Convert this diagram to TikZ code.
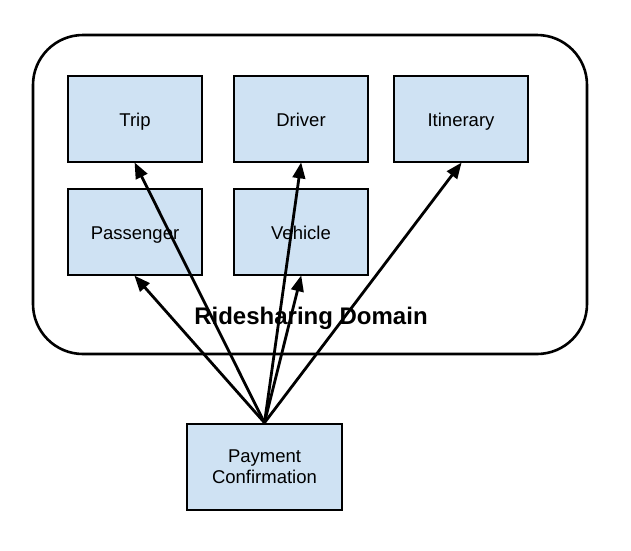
\documentclass[tikz,border=0pt]{standalone}
\usepackage{fontspec}
\setmainfont{Liberation Sans}
\usetikzlibrary{arrows.meta}
\definecolor{boxblue}{HTML}{CFE2F3}
\begin{document}
\begin{tikzpicture}[x=1pt,y=-1pt,
  entity/.style={draw=black, line width=2.6pt, fill=boxblue, minimum width=134pt, minimum height=86pt, inner sep=0pt, align=center, font=\fontsize{18.5}{21}\selectfont},
  single/.style={text height=15.5pt, text depth=0pt},
  link/.style={line width=2.8pt, -{Triangle[length=16pt,width=12.5pt]}, shorten >=-1pt}]
\useasboundingbox (0,0) rectangle (631,550);
\draw[line width=2.6pt, rounded corners=50pt] (33,35) rectangle (587,354);
\node[entity, single] (trip) at (135,119) {Trip};
\node[entity, single] (driver) at (301,119) {Driver};
\node[entity, single] (itinerary) at (461,119) {Itinerary};
\node[entity, single] (passenger) at (135,232) {Passenger};
\node[entity, single] (vehicle) at (301,232) {Vehicle};
\node[entity, minimum width=155pt] (payment) at (264.5,467) {Payment\\Confirmation};
\node[anchor=base, font=\fontsize{24}{28}\selectfont\bfseries] (domain) at (311,324) {Ridesharing Domain};
\draw[link] (payment.north) -- (trip.south);
\draw[link] (payment.north) -- (driver.south);
\draw[link] (payment.north) -- (itinerary.south);
\draw[link] (payment.north) -- (passenger.south);
\draw[link] (payment.north) -- (vehicle.south);
\end{tikzpicture}
\end{document}
